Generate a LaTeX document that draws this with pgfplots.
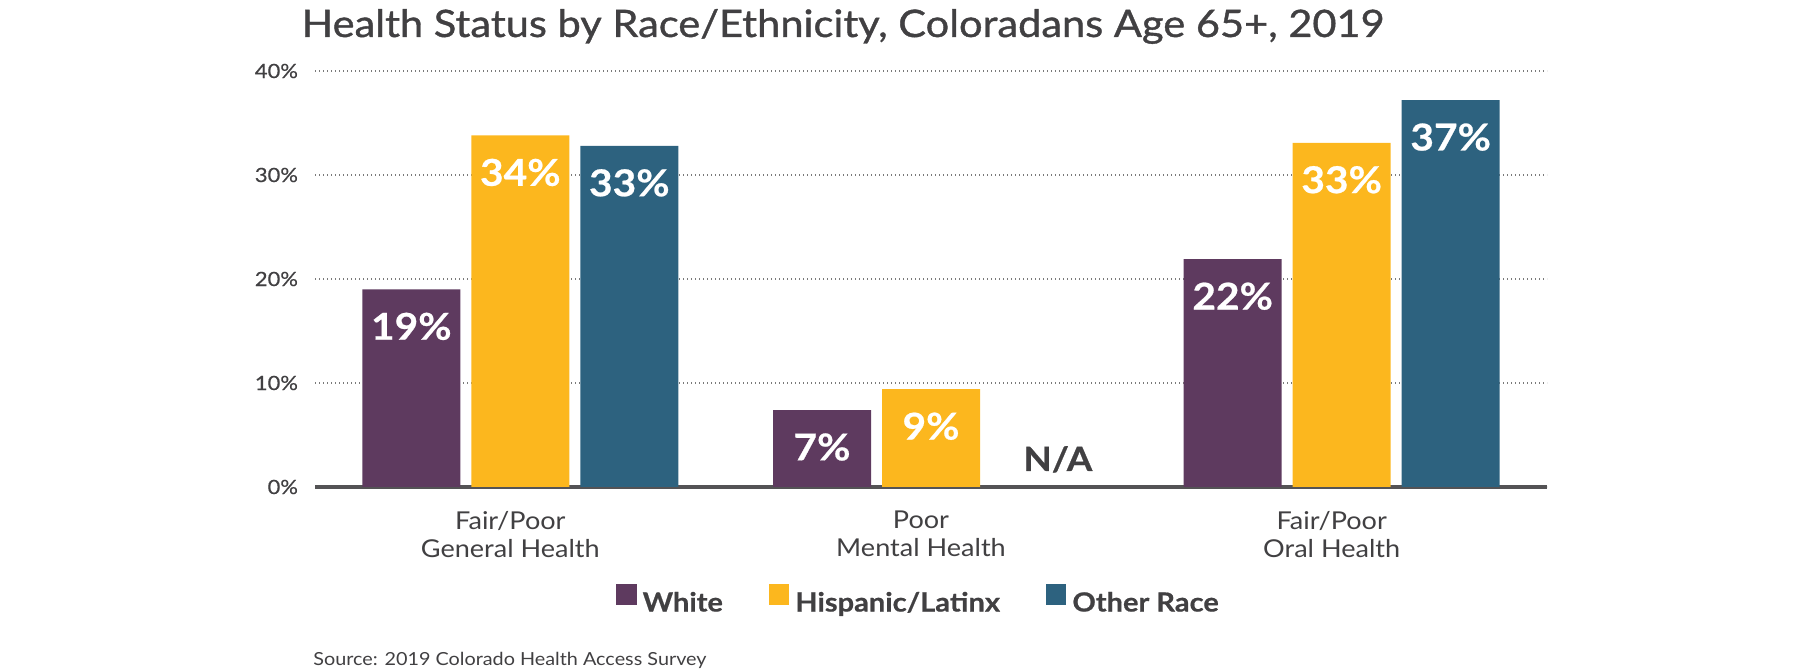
\documentclass[border=0pt]{standalone}
\usepackage{fontspec}
\setmainfont[FakeStretch=1.1]{Lato}
\newfontfamily\titlefont[FakeStretch=1.1, FakeBold=1]{Lato}
\newfontfamily\tickfont[FakeStretch=1.12, FakeBold=0.6]{Lato}
\usepackage{pgfplots}
\pgfplotsset{compat=1.18}

\definecolor{cpurple}{HTML}{5E3A5F}
\definecolor{cyellow}{HTML}{FCB71E}
\definecolor{cteal}{HTML}{2D627F}
\definecolor{ctext}{HTML}{414042}
\definecolor{cgrid}{HTML}{7A7A7A}

\newcommand{\heavy}{\bfseries\addfontfeatures{FakeBold=0.6}}

\pgfplotsset{
  sqlegend/.style={legend image code/.code={\fill[##1] (0pt,-0.7pt) rectangle (10.2pt,9.5pt);}},
}

\begin{document}
\begin{tikzpicture}
\path[use as bounding box] (0pt,0pt) rectangle (900pt,336pt);

% title and source
\node[anchor=base, inner sep=0pt, text=ctext, font=\titlefont\fontsize{18.9}{22}\selectfont]
  at (421.5pt,317.5pt) {Health Status by Race/Ethnicity, Coloradans Age 65+, 2019};
\node[anchor=base west, inner sep=0pt, text=ctext, font=\fontsize{9.0}{11}\selectfont]
  at (156.5pt,3pt) {Source: 2019 Colorado Health Access Survey};

\begin{axis}[
    at={(157.5pt,92.5pt)}, anchor=south west,
    scale only axis,
    width=616pt, height=208pt,
    ybar=5.5pt, bar width=49pt,
    xmin=-0.5, xmax=2.5,
    ymin=0, ymax=40,
    xtick={0,1,2},
    xticklabels={{Fair/Poor\\General Health},{Poor\\Mental Health},{Fair/Poor\\Oral Health}},
    xticklabel style={align=center, text=ctext, font=\fontsize{12.3}{14}\selectfont, xshift=-5pt, yshift=-8.5pt},
    ytick={0,10,20,30,40},
    yticklabels={0\%,10\%,20\%,30\%,40\%},
    yticklabel style={text=ctext, font=\tickfont\fontsize{9.8}{11}\selectfont, xshift=-5pt},
    major tick length=0pt,
    axis x line*=bottom, axis y line*=left,
    y axis line style={draw=none},
    x axis line style={line width=1.6pt, color=ctext!90},
    ymajorgrids,
    grid style={color=cgrid, line width=0.6pt, dash pattern=on 0.6pt off 1.4pt},
    point meta=explicit,
    nodes near coords={\pgfmathprintnumber[assume math mode=true]{\pgfplotspointmeta}\%},
    every node near coord/.append style={anchor=center, yshift=-18.5pt, text=white,
      font=\heavy\fontsize{18.5}{22}\selectfont},
    legend columns=3,
    legend style={draw=none, fill=none, at={(0.4907,-0.275)}, anchor=center,
      font=\heavy\fontsize{13.2}{15}\selectfont, text=ctext,
      /tikz/every odd column/.append style={column sep=1pt},
      /tikz/every even column/.append style={column sep=21pt}},
    legend cell align=left,
  ]
  \addplot[fill=cpurple, draw=none, sqlegend] coordinates {(0,19.0) [19] (1,7.4) [7] (2,21.9) [22]};
  \addplot[fill=cyellow, draw=none, sqlegend] coordinates {(0,33.8) [34] (1,9.4) [9] (2,33.1) [33]};
  \addplot[fill=cteal, draw=none, sqlegend] coordinates {(0,32.8) [33] (2,37.2) [37]};
  \legend{White, Hispanic/Latinx, Other Race}
  \node[anchor=base, text=ctext, font=\heavy\fontsize{16.7}{20}\selectfont]
    at (axis cs:1.309,1.54) {N/A};
\end{axis}
\end{tikzpicture}
\end{document}
